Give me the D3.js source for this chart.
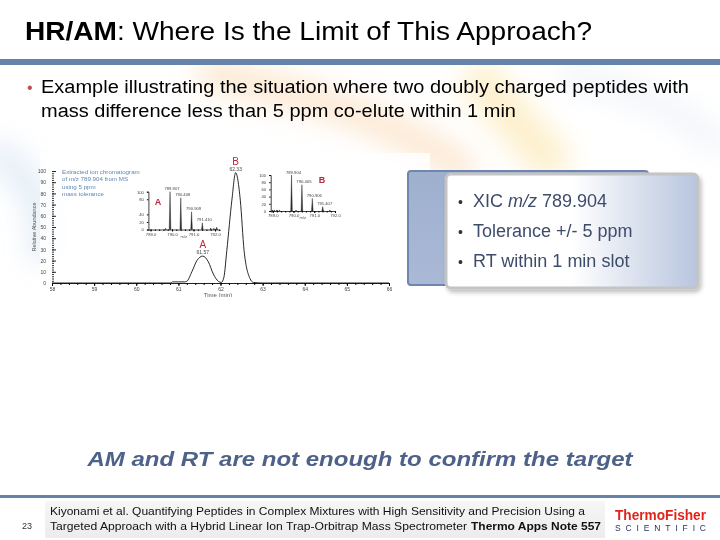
<!DOCTYPE html>
<html>
<head>
<meta charset="utf-8">
<script src="https://cdn.jsdelivr.net/npm/d3@7"></script>
<style>
  html, body { margin: 0; padding: 0; background: #fff; }
  svg { display: block; font-family: "Liberation Sans", Arial, sans-serif; }
</style>
</head>
<body>
<div id="slide"></div>
<script>
// chromatogram (XIC m/z 789.904)
let chromRT  = [58.0, 60.5, 60.82, 60.86, 61.0, 61.15, 61.2, 61.32, 61.44, 61.58, 61.71, 61.83, 61.95, 62.02, 62.08, 62.15, 62.27, 62.36, 62.47, 62.56, 62.70, 62.78, 63.0, 66.0];
let chromInt = [0, 0, 0, 1, 1, 1, 1.5, 10, 20, 24, 19, 8, 1.5, 0.5, 5, 29, 74, 98.5, 74, 29, 4, 0.5, 0, 0];
let rtTicks = [58, 59, 60, 61, 62, 63, 64, 65, 66];
let abTicks = [0, 10, 20, 30, 40, 50, 60, 70, 80, 90, 100];

let peakLabels = ['A', 'B'];
let peakRT = [61.58, 62.36];
let peakInt = [24, 98.5];
let peakText = ['61.57', '62.33'];

// inset spectra
let specA_mz  = [789.70, 789.907, 790.408, 790.909, 791.410, 791.80, 791.95, 792.08];
let specA_int = [3, 100, 84, 47, 18, 4, 3, 6];
let specA_lab = ['', '789.907', '790.408', '790.909', '791.410', '', '', ''];
let specA_yTicks = [0, 20, 40, 80, 100];
let specA_xTicks = [789, 790, 791, 792];

let specB_mz  = [788.98, 789.08, 789.2, 789.32, 789.904, 790.12, 790.405, 790.906, 791.407, 791.75];
let specB_int = [3, 2, 3, 2, 100, 2, 73, 35, 12, 2];
let specB_lab = ['', '', '', '', '789.904', '', '790.405', '790.906', '791.407', ''];
let specB_yTicks = [0, 20, 40, 60, 80, 100];
let specB_xTicks = [789, 790, 791, 792];

let noteLines = ['Extracted ion chromatogram', 'of m/z 789.904 from MS', 'using 5 ppm', 'mass tolerance'];
let calloutLines = [['XIC ', 'm/z', ' 789.904'], ['Tolerance +/- 5 ppm'], ['RT within 1 min slot']];

let W = 720, H = 540;
let svg = d3.select('#slide').append('svg')
  .attr('width', W).attr('height', H)
  .attr('viewBox', [0, 0, W, H].join(' '));

let defs = svg.append('defs');
let blur = defs.append('filter').attr('id', 'blur').attr('x', '-50%').attr('y', '-50%').attr('width', '200%').attr('height', '200%');
blur.append('feGaussianBlur').attr('stdDeviation', 14);
let shadow = defs.append('filter').attr('id', 'shadow').attr('x', '-10%').attr('y', '-10%').attr('width', '130%').attr('height', '130%');
shadow.append('feDropShadow').attr('dx', 2).attr('dy', 3).attr('stdDeviation', 2).attr('flood-color', '#000').attr('flood-opacity', 0.25);

let gFront = defs.append('linearGradient').attr('id', 'front').attr('x1', 0).attr('x2', 1).attr('y1', 0).attr('y2', 0);
gFront.append('stop').attr('offset', '0%').attr('stop-color', '#ffffff');
gFront.append('stop').attr('offset', '50%').attr('stop-color', '#ffffff');
gFront.append('stop').attr('offset', '100%').attr('stop-color', '#b7c5de');
let gBack = defs.append('linearGradient').attr('id', 'back').attr('x1', 0).attr('x2', 0).attr('y1', 0).attr('y2', 1);
gBack.append('stop').attr('offset', '0%').attr('stop-color', '#9fb0cf');
gBack.append('stop').attr('offset', '100%').attr('stop-color', '#a9b9d6');
let gFoot = defs.append('linearGradient').attr('id', 'foot').attr('x1', 0).attr('x2', 0).attr('y1', 0).attr('y2', 1);
gFoot.append('stop').attr('offset', '0%').attr('stop-color', '#f6f6f6');
gFoot.append('stop').attr('offset', '100%').attr('stop-color', '#ececec');

// background swooshes
let bg = svg.append('g').attr('filter', 'url(#blur)');
bg.append('path').attr('d', 'M200,72 C300,92 400,120 470,175').attr('stroke', '#f7c48a').attr('stroke-width', 30).attr('fill', 'none').attr('opacity', 0.4);
bg.append('path').attr('d', 'M470,72 C500,100 520,130 560,170').attr('stroke', '#f9d77a').attr('stroke-width', 40).attr('fill', 'none').attr('opacity', 0.4);
bg.append('path').attr('d', 'M-10,150 C30,170 50,210 40,260').attr('stroke', '#a9c8e6').attr('stroke-width', 26).attr('fill', 'none').attr('opacity', 0.35);
bg.append('path').attr('d', 'M560,72 C640,90 700,120 720,150').attr('stroke', '#cfdcec').attr('stroke-width', 24).attr('fill', 'none').attr('opacity', 0.3);
svg.append('rect').attr('x', 0).attr('y', 0).attr('width', W).attr('height', 59).attr('fill', '#fff');

// title
let title = svg.append('text').attr('x', 25).attr('y', 40).attr('font-size', 25.5).attr('fill', '#000')
  .attr('textLength', 567).attr('lengthAdjust', 'spacingAndGlyphs');
title.append('tspan').attr('font-weight', 'bold').text('HR/AM');
title.append('tspan').text(': Where Is the Limit of This Approach?');

svg.append('rect').attr('x', 0).attr('y', 59).attr('width', W).attr('height', 6).attr('fill', '#6583a9');

// bullet
svg.append('text').attr('x', 27).attr('y', 93).attr('font-size', 16).attr('fill', '#c0504d').text('•');
svg.append('text').attr('x', 41).attr('y', 93).attr('font-size', 18).attr('fill', '#000')
  .attr('textLength', 648).attr('lengthAdjust', 'spacingAndGlyphs')
  .text('Example illustrating the situation where two doubly charged peptides with');
svg.append('text').attr('x', 41).attr('y', 117).attr('font-size', 18).attr('fill', '#000')
  .attr('textLength', 475).attr('lengthAdjust', 'spacingAndGlyphs')
  .text('mass difference less than 5 ppm co-elute within 1 min');

// ---- chromatogram figure ----
defs.append('clipPath').attr('id', 'figclip').append('rect').attr('x', 18).attr('y', 150).attr('width', 415).attr('height', 147);
let fig = svg.append('g').attr('clip-path', 'url(#figclip)');
fig.append('rect').attr('x', 40).attr('y', 153).attr('width', 390).attr('height', 145).attr('fill', '#fff').attr('opacity', 0.8);

let x = d3.scaleLinear().domain([58, 66]).range([52, 389]);
let y = d3.scaleLinear().domain([0, 100]).range([283, 171]);

fig.append('g').attr('transform', 'translate(0,283)')
  .call(d3.axisBottom(x).ticks(40).tickSize(2).tickFormat(''))
  .call(g => g.select('.domain').attr('stroke', '#222').attr('stroke-width', 1));
fig.append('g').attr('transform', 'translate(0,283)')
  .call(d3.axisBottom(x).tickValues(rtTicks).tickSize(3).tickFormat(d3.format('d')))
  .call(g => g.select('.domain').remove())
  .call(g => g.selectAll('text').attr('font-size', 5).attr('fill', '#444').attr('dy', '0.4em'));

fig.append('g').attr('transform', 'translate(52,0)')
  .call(d3.axisRight(y).ticks(50).tickSize(2).tickFormat(''))
  .call(g => g.select('.domain').remove())
  .call(g => g.selectAll('line').attr('stroke', '#333'));
fig.append('g').attr('transform', 'translate(52,0)')
  .call(d3.axisLeft(y).tickValues(abTicks).tickSize(0).tickPadding(6))
  .call(g => g.select('.domain').remove())
  .call(g => g.selectAll('text').attr('font-size', 5).attr('fill', '#444'));
fig.append('g').attr('transform', 'translate(52,0)')
  .call(d3.axisRight(y).tickValues(abTicks).tickSize(4).tickFormat(''))
  .call(g => g.select('.domain').remove())
  .call(g => g.selectAll('line').attr('stroke', '#222'));

fig.append('text').attr('transform', 'translate(36,227) rotate(-90)').attr('text-anchor', 'middle')
  .attr('font-size', 5.5).attr('fill', '#555').text('Relative Abundance');
fig.append('text').attr('x', 218).attr('y', 297).attr('text-anchor', 'middle')
  .attr('font-size', 6).attr('fill', '#555').text('Time (min)');

let chrom = chromRT.map((t, i) => [t, chromInt[i]]);
fig.append('path').datum(chrom)
  .attr('fill', 'none').attr('stroke', '#111').attr('stroke-width', 0.9)
  .attr('d', d3.line().x(d => x(d[0])).y(d => y(d[1])).curve(d3.curveMonotoneX));

peakLabels.forEach((lab, i) => {
  fig.append('text').attr('x', x(peakRT[i])).attr('y', y(peakInt[i]) - 8).attr('text-anchor', 'middle')
    .attr('font-size', 10).attr('fill', '#b8283c').text(lab);
  fig.append('text').attr('x', x(peakRT[i])).attr('y', y(peakInt[i]) - 2).attr('text-anchor', 'middle')
    .attr('font-size', 5).attr('fill', '#444').text(peakText[i]);
});

let note = fig.append('text').attr('font-size', 6.2).attr('fill', '#5f86b3');
noteLines.forEach((l, i) => note.append('tspan').attr('x', 62).attr('y', 174 + i * 7.4).text(l));

function drawSpectrum(mz, inten, labels, yT, xT, dom, xr, yr, letter, letterPos) {
  let sx = d3.scaleLinear().domain(dom).range(xr);
  let sy = d3.scaleLinear().domain([0, 100]).range(yr);
  let g = fig.append('g');
  g.append('g').attr('transform', 'translate(0,' + yr[0] + ')')
    .call(d3.axisBottom(sx).ticks(15).tickSize(1.5).tickFormat(''))
    .call(a => a.select('.domain').attr('stroke', '#111').attr('stroke-width', 0.8));
  g.append('g').attr('transform', 'translate(0,' + yr[0] + ')')
    .call(d3.axisBottom(sx).tickValues(xT).tickSize(2).tickFormat(d3.format('.1f')))
    .call(a => a.select('.domain').remove())
    .call(a => a.selectAll('text').attr('font-size', 4.2).attr('fill', '#444').attr('dy', '0.3em'));
  g.append('g').attr('transform', 'translate(' + xr[0] + ',0)')
    .call(d3.axisLeft(sy).tickValues(yT).tickSize(1.5).tickPadding(3))
    .call(a => a.select('.domain').attr('stroke', '#111').attr('stroke-width', 0.8))
    .call(a => a.selectAll('text').attr('font-size', 4.2).attr('fill', '#444'));
  g.append('text').attr('x', (xr[0] + xr[1]) / 2).attr('y', yr[0] + 8).attr('text-anchor', 'middle')
    .attr('font-size', 4).attr('fill', '#555').text('m/z');
  g.selectAll('path.pk').data(mz).join('path').attr('class', 'pk')
    .attr('d', (m, i) => {
      let cx = sx(m), top = sy(inten[i]);
      return 'M' + (cx - 0.8) + ',' + yr[0] + 'L' + cx + ',' + top + 'L' + (cx + 0.8) + ',' + yr[0] + 'Z';
    })
    .attr('fill', '#333').attr('stroke', '#111').attr('stroke-width', 0.4);
  g.selectAll('text.pl').data(mz).join('text').attr('class', 'pl')
    .attr('x', (m) => sx(m) + 2).attr('y', (m, i) => sy(inten[i]) - 1.5)
    .attr('text-anchor', 'middle').attr('font-size', 4.2).attr('fill', '#444')
    .text((m, i) => labels[i]);
  g.append('text').attr('x', letterPos[0]).attr('y', letterPos[1]).attr('text-anchor', 'middle')
    .attr('font-size', 9).attr('font-weight', 'bold').attr('fill', '#b8283c').text(letter);
}

drawSpectrum(specA_mz, specA_int, specA_lab, specA_yTicks, specA_xTicks,
  [788.9, 792.2], [148.4, 219.3], [229.5, 191.7], 'A', [158, 205]);
drawSpectrum(specB_mz, specB_int, specB_lab, specB_yTicks, specB_xTicks,
  [788.9, 792.0], [270.7, 335], [211, 175], 'B', [322, 183]);

// ---- callout box ----
svg.append('rect').attr('x', 408).attr('y', 171).attr('width', 240).attr('height', 114).attr('rx', 3)
  .attr('fill', 'url(#back)').attr('stroke', '#6f86b0').attr('stroke-width', 2);
svg.append('rect').attr('x', 446).attr('y', 174).attr('width', 252).attr('height', 114).attr('rx', 5)
  .attr('fill', 'url(#front)').attr('stroke', '#c4c4c4').attr('stroke-width', 3).attr('filter', 'url(#shadow)');
calloutLines.forEach((parts, i) => {
  let yy = 207 + i * 30;
  svg.append('text').attr('x', 458).attr('y', yy).attr('font-size', 14).attr('fill', '#333').text('•');
  let t = svg.append('text').attr('x', 473).attr('y', yy).attr('font-size', 18).attr('fill', '#3e4c6c');
  parts.forEach(p => t.append('tspan').attr('font-style', p === 'm/z' ? 'italic' : null).text(p));
});

// bottom statement
svg.append('text').attr('x', 360).attr('y', 466).attr('text-anchor', 'middle')
  .attr('font-size', 21).attr('font-weight', 'bold').attr('font-style', 'italic').attr('fill', '#4d6189')
  .attr('textLength', 545).attr('lengthAdjust', 'spacingAndGlyphs')
  .text('AM and RT are not enough to confirm the target');

// footer
svg.append('rect').attr('x', 0).attr('y', 495).attr('width', W).attr('height', 3).attr('fill', '#6583a9');
svg.append('rect').attr('x', 45).attr('y', 501).attr('width', 560).attr('height', 37).attr('fill', 'url(#foot)');
svg.append('text').attr('x', 22).attr('y', 529).attr('font-size', 9).attr('fill', '#333').text('23');
svg.append('text').attr('x', 50).attr('y', 515).attr('font-size', 11).attr('fill', '#111')
  .attr('textLength', 535).attr('lengthAdjust', 'spacingAndGlyphs')
  .text('Kiyonami et al. Quantifying Peptides in Complex Mixtures with High Sensitivity and Precision Using a');
svg.append('text').attr('x', 50).attr('y', 530).attr('font-size', 11).attr('fill', '#111')
  .attr('textLength', 417).attr('lengthAdjust', 'spacingAndGlyphs')
  .text('Targeted Approach with a Hybrid Linear Ion Trap-Orbitrap Mass Spectrometer');
svg.append('text').attr('x', 471).attr('y', 530).attr('font-size', 11).attr('font-weight', 'bold').attr('fill', '#111')
  .attr('textLength', 130).attr('lengthAdjust', 'spacingAndGlyphs')
  .text('Thermo Apps Note 557');

svg.append('text').attr('x', 615).attr('y', 520).attr('font-size', 14).attr('font-weight', 'bold').attr('fill', '#e2231a')
  .attr('textLength', 91).attr('lengthAdjust', 'spacingAndGlyphs').text('ThermoFisher');
svg.append('text').attr('x', 615).attr('y', 531).attr('font-size', 8.5).attr('fill', '#1c2f5e')
  .attr('textLength', 91).attr('lengthAdjust', 'spacing').text('SCIENTIFIC');
</script>
</body>
</html>
